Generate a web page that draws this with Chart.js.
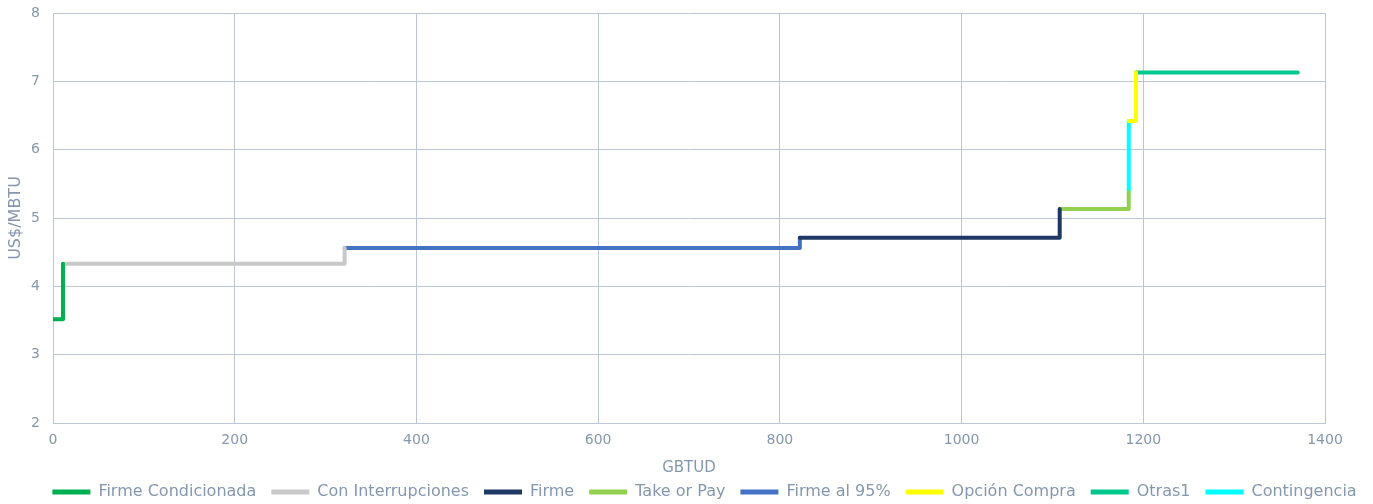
<!DOCTYPE html>
<html>
<head>
<meta charset="utf-8">
<script src="https://cdn.jsdelivr.net/npm/chart.js@4.4.1/dist/chart.umd.min.js"></script>
<style>
  html, body { margin: 0; padding: 0; background: #ffffff; }
  #wrap { width: 1373px; height: 504px; }
</style>
</head>
<body>
<div id="wrap"><canvas id="curva"></canvas></div>
<script>
// Curva de oferta: tramos por tipo de contrato (GBTUD acumulado vs US$/MBTU)
const seriesNames = ['Firme Condicionada', 'Con Interrupciones', 'Firme', 'Take or Pay',
                     'Firme al 95%', 'Opción Compra', 'Otras1', 'Contingencia'];

const firmeCondX = [0, 11, 11];
const firmeCondY = [3.52, 3.52, 4.33];

const conInterrX = [11, 321, 321];
const conInterrY = [4.33, 4.33, 4.56];

const firmeX = [822, 1108, 1108];
const firmeY = [4.71, 4.71, 5.13];

const takeOrPayX = [1108, 1184, 1184];
const takeOrPayY = [5.13, 5.13, 5.38];

const firme95X = [321, 822, 822];
const firme95Y = [4.56, 4.56, 4.71];

const opcionX = [1184, 1192, 1192];
const opcionY = [6.42, 6.42, 7.13];

const otrasX = [1192, 1370];
const otrasY = [7.13, 7.13];

const contingX = [1184, 1184];
const contingY = [5.38, 6.42];

const xTicks = [0, 200, 400, 600, 800, 1000, 1200, 1400];
const yTicks = [2, 3, 4, 5, 6, 7, 8];

const seriesColors = ['#00b050', '#c9c9c9', '#1f3864', '#92d050',
                      '#4472c4', '#ffff00', '#00c78c', '#00ffff'];

const xs = [firmeCondX, conInterrX, firmeX, takeOrPayX, firme95X, opcionX, otrasX, contingX];
const ys = [firmeCondY, conInterrY, firmeY, takeOrPayY, firme95Y, opcionY, otrasY, contingY];

const FONT = '"DejaVu Sans", sans-serif';
const TEXT = '#8597b0';
const GRID = '#bcc6d4';
const PAD_BOTTOM = -6;
const PLOT_TOP = 13;
const PLOT_BOTTOM = 423;
const PLOT_RIGHT_GAP = 48;
const LEGEND_SHIFT = 18;

const datasets = seriesNames.map((name, i) => ({
  label: name,
  data: xs[i].map((x, k) => ({ x: x, y: ys[i][k] })),
  borderColor: seriesColors[i],
  backgroundColor: seriesColors[i],
  borderWidth: 4,
  borderCapStyle: 'round',
  borderJoinStyle: 'round',
  pointRadius: 0,
  pointHoverRadius: 0,
  showLine: true,
  fill: false,
  tension: 0
}));

// nudges the legend row to the right of the canvas centre
const legendShift = {
  id: 'legendShift',
  afterLayout(chart) {
    if (chart.legend) {
      chart.legend.left += LEGEND_SHIFT;
      chart.legend.right += LEGEND_SHIFT;
    }
  }
};

new Chart(document.getElementById('curva'), {
  type: 'scatter',
  data: { datasets: datasets },
  plugins: [legendShift],
  options: {
    responsive: true,
    maintainAspectRatio: false,
    animation: false,
    events: [],
    layout: { padding: { left: 0, right: 0, top: PLOT_TOP, bottom: PAD_BOTTOM } },
    plugins: {
      tooltip: { enabled: false },
      legend: {
        position: 'bottom',
        labels: {
          font: { family: FONT, size: 16 },
          color: TEXT,
          boxWidth: 38,
          boxHeight: 5,
          padding: 15,
          generateLabels: (chart) => chart.data.datasets.map((d, i) => ({
            text: d.label,
            fillStyle: d.borderColor,
            strokeStyle: d.borderColor,
            lineWidth: 0,
            fontColor: TEXT,
            hidden: false,
            datasetIndex: i
          }))
        }
      }
    },
    scales: {
      x: {
        type: 'linear',
        min: 0,
        max: 1400,
        afterBuildTicks: (scale) => { scale.ticks = xTicks.map(v => ({ value: v })); },
        afterFit: (scale) => {
          const lg = scale.chart.legend ? scale.chart.legend.height : 0;
          scale.height = scale.chart.height - PLOT_BOTTOM - lg - PAD_BOTTOM;
          scale.paddingLeft = 0;
          scale.paddingRight = PLOT_RIGHT_GAP;
        },
        ticks: {
          font: { family: FONT, size: 14 }, color: TEXT, padding: 9, maxRotation: 0,
          callback: (v) => String(v)
        },
        grid: { color: GRID, lineWidth: 1, drawTicks: false },
        border: { color: GRID, width: 1 },
        title: {
          display: true,
          text: 'GBTUD',
          font: { family: FONT, size: 15 },
          color: TEXT,
          padding: { top: 0, bottom: -8 }
        }
      },
      y: {
        type: 'linear',
        min: 2,
        max: 8,
        afterBuildTicks: (scale) => { scale.ticks = yTicks.map(v => ({ value: v })); },
        afterFit: (scale) => {
          scale.width = 53;
          scale.paddingTop = 0;
          scale.paddingBottom = 0;
        },
        ticks: { font: { family: FONT, size: 14 }, color: TEXT, padding: 13, callback: (v) => String(v) },
        grid: { color: GRID, lineWidth: 1, drawTicks: false },
        border: { color: '#c6c6c6', width: 1 },
        title: {
          display: true,
          text: 'US$/MBTU',
          font: { family: FONT, size: 16 },
          color: TEXT,
          padding: { top: 6, bottom: 0 }
        }
      }
    }
  }
});
</script>
</body>
</html>
